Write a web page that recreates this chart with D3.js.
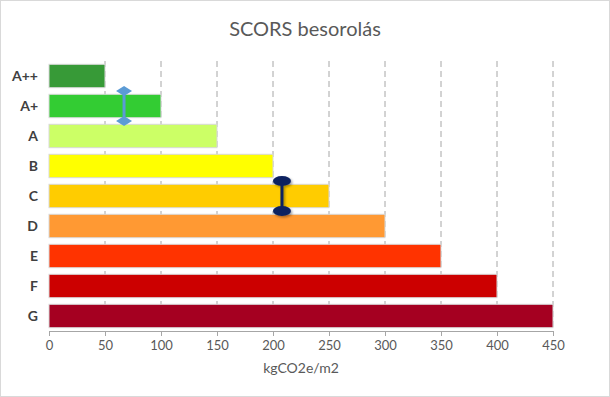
<!DOCTYPE html>
<html>
<head>
<meta charset="utf-8">
<script src="https://cdn.jsdelivr.net/npm/d3@7"></script>
<style>
  body { margin: 0; background: #fff; }
  svg { display: block; font-family: Lato, "Open Sans", sans-serif; }
</style>
</head>
<body>
<div id="chart"></div>
<script>
// rating classes and their upper limits (kgCO2e/m2)
var categories = ["A++", "A+", "A", "B", "C", "D", "E", "F", "G"];
var limits = [50, 100, 150, 200, 250, 300, 350, 400, 450];
var colors = ["#379a37", "#33cc33", "#ccff66", "#ffff00", "#ffcc00", "#ff9933", "#ff3300", "#cc0000", "#a50021"];
var xTicks = [0, 50, 100, 150, 200, 250, 300, 350, 400, 450];

// range markers spanning one class
var markerCats = ["A+", "C"];
var markerValues = [67, 208];
var markerColors = ["#5b9bd5", "#0b2461"];

var W = 610, H = 397;
var margin = {top: 61, right: 57, bottom: 66, left: 49};

var svg = d3.select("#chart").append("svg")
    .attr("width", W)
    .attr("height", H);

svg.append("rect")
    .attr("x", 0.5).attr("y", 0.5)
    .attr("width", W - 1).attr("height", H - 1)
    .attr("fill", "#fff")
    .attr("stroke", "#d9d9d9");

var defs = svg.append("defs");
var f = defs.append("filter").attr("id", "shadow")
    .attr("x", "-50%").attr("y", "-50%").attr("width", "200%").attr("height", "200%");
f.append("feDropShadow")
    .attr("dx", 1.5).attr("dy", 1.5).attr("stdDeviation", 1.2)
    .attr("flood-color", "#000").attr("flood-opacity", 0.35);

var x = d3.scaleLinear()
    .domain([0, 450])
    .range([margin.left, W - margin.right]);

var y = d3.scaleBand()
    .domain(categories)
    .range([margin.top, H - margin.bottom])
    .paddingInner(0.22)
    .paddingOuter(0.11);

// title
svg.append("text")
    .attr("x", W / 2).attr("y", 36)
    .attr("text-anchor", "middle")
    .attr("fill", "#595959")
    .style("font-size", "20px")
    .text("SCORS besorolás");

// dashed gridlines
svg.append("g")
    .selectAll("line")
    .data(xTicks.filter(function(d) { return d > 0; }))
    .enter().append("line")
    .attr("x1", function(d) { return x(d); })
    .attr("x2", function(d) { return x(d); })
    .attr("y1", margin.top)
    .attr("y2", H - margin.bottom)
    .attr("stroke", "#a6a6a6")
    .attr("stroke-dasharray", "6,4");

// bars
svg.append("g")
    .selectAll("rect")
    .data(categories)
    .enter().append("rect")
    .attr("x", x(0))
    .attr("y", function(d) { return y(d); })
    .attr("width", function(d, i) { return x(limits[i]) - x(0); })
    .attr("height", y.bandwidth())
    .attr("fill", function(d, i) { return colors[i]; })
    .attr("stroke", "#d9d9d9")
    .attr("stroke-width", 1);

// x axis
var xAxis = svg.append("g")
    .attr("transform", "translate(0," + (H - margin.bottom) + ")")
    .call(d3.axisBottom(x).tickValues(xTicks).tickSize(5).tickPadding(5));
xAxis.select(".domain").attr("stroke", "#a6a6a6");
xAxis.selectAll(".tick line").attr("stroke", "#a6a6a6");
xAxis.selectAll("text")
    .attr("fill", "#595959")
    .style("font-size", "13px")
    .style("font-family", "Lato, sans-serif");

// category labels
svg.append("g")
    .selectAll("text")
    .data(categories)
    .enter().append("text")
    .attr("x", 38)
    .attr("y", function(d) { return y(d) + y.bandwidth() / 2; })
    .attr("dy", "0.35em")
    .attr("text-anchor", "end")
    .attr("fill", "#404040")
    .style("font-size", "14px")
    .style("font-weight", "bold")
    .text(function(d) { return d; });

// axis title
svg.append("text")
    .attr("x", (x(0) + x(450)) / 2).attr("y", 373)
    .attr("text-anchor", "middle")
    .attr("fill", "#595959")
    .style("font-size", "14px")
    .text("kgCO2e/m2");

// markers spanning one class
var step = y.step();
var markers = svg.append("g").selectAll("g")
    .data(markerCats)
    .enter().append("g")
    .attr("filter", function(d, i) { return i === 1 ? "url(#shadow)" : null; });

markers.each(function(d, i) {
    var g = d3.select(this);
    var cx = x(markerValues[i]);
    var c = y(d) + y.bandwidth() / 2;
    var y1 = c - step / 2, y2 = c + step / 2;
    g.append("line")
        .attr("x1", cx).attr("x2", cx)
        .attr("y1", y1).attr("y2", y2)
        .attr("stroke", markerColors[i])
        .attr("stroke-width", 3);
    if (i === 0) {
        [y1, y2].forEach(function(yy) {
            g.append("path")
                .attr("d", "M" + cx + "," + (yy - 5) + "L" + (cx + 8) + "," + yy +
                    "L" + cx + "," + (yy + 5) + "L" + (cx - 8) + "," + yy + "Z")
                .attr("fill", markerColors[i]);
        });
    } else {
        [y1, y2].forEach(function(yy) {
            g.append("ellipse")
                .attr("cx", cx).attr("cy", yy)
                .attr("rx", 9).attr("ry", 5)
                .attr("fill", markerColors[i]);
        });
    }
});
</script>
</body>
</html>
